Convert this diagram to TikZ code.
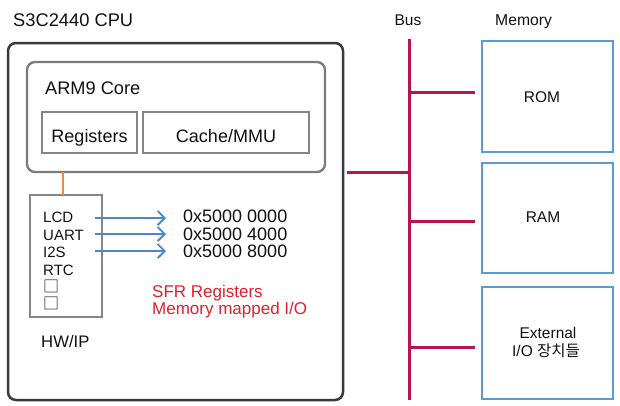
\documentclass[tikz,border=0pt]{standalone}
\usepackage{fontspec}
\setmainfont{Liberation Sans}
\newfontfamily\kr{Noto Sans CJK KR}
\usetikzlibrary{arrows.meta}
\definecolor{cpuline}{HTML}{3A3A3A}
\definecolor{coreline}{HTML}{7A7A7A}
\definecolor{thinline}{HTML}{858585}
\definecolor{busred}{HTML}{B5164F}
\definecolor{memblue}{HTML}{5B9BD5}
\definecolor{arrblue}{HTML}{4A86C8}
\definecolor{sfrred}{HTML}{E0202A}
\definecolor{wireorange}{HTML}{F28C3C}
\definecolor{txt}{HTML}{111111}
\tikzset{
  boxnode/.style={anchor=north west, inner sep=0pt, outer sep=0pt},
  lbl/.style={inner sep=0pt, anchor=base west, text=txt},
  clbl/.style={inner sep=0pt, anchor=base, text=txt},
  busline/.style={draw=busred, line width=3pt},
  maparrow/.style={draw=arrblue, line width=1.8pt, -{Straight Barb[length=7pt,width=14pt,line width=1.8pt]}},
}
\newcommand{\fs}[1]{\fontsize{#1}{#1}\selectfont}
\begin{document}
\begin{tikzpicture}[x=1pt,y=-1pt]
\useasboundingbox[fill=white] (0,0) rectangle (620,405);
% CPU outer box
\node[boxnode, draw=cpuline, line width=2.5pt, rounded corners=8pt, minimum width=335pt, minimum height=357pt] (cpu) at (8,43) {};
\node[lbl, font=\fs{18.3}] (title) at (13,26) {S3C2440 CPU};
% ARM9 core
\node[boxnode, draw=coreline, line width=2.3pt, rounded corners=8pt, minimum width=298pt, minimum height=110pt] (core) at (27,62) {};
\node[lbl, font=\fs{18.2}] (coretxt) at (45,94) {ARM9 Core};
\node[boxnode, draw=thinline, line width=1.3pt, minimum width=95pt, minimum height=41pt] (reg) at (42,112) {};
\node[clbl, font=\fs{18}] (regtxt) at ([yshift=-9.5pt]reg.center) {Registers};
\node[boxnode, draw=thinline, line width=1.3pt, minimum width=166pt, minimum height=41pt] (cache) at (143,112) {};
\node[clbl, font=\fs{18}] (cachetxt) at ([yshift=-9.5pt]cache.center) {Cache/MMU};
% HW/IP box
\node[boxnode, draw=thinline, line width=1.3pt, minimum width=72pt, minimum height=122pt] (hw) at (30,195) {};
\coordinate (o1) at (63,172);
\coordinate (o2) at (63,195);
\draw[wireorange, line width=2.2pt] (o1) -- (o2);
\node[lbl, font=\fs{15}] (lcd) at (43,222) {LCD};
\node[lbl, font=\fs{15}] (uart) at (43,240) {UART};
\node[lbl, font=\fs{15}] (i2s) at (43,257) {I2S};
\node[lbl, font=\fs{15}] (rtc) at (43,275) {RTC};
\node[lbl, font=\kr\fs{16}] (sq1) at (43,292) {□};
\node[lbl, font=\kr\fs{16}] (sq2) at (43,309) {□};
\node[lbl, font=\fs{16.7}] (hwtxt) at (41,347) {HW/IP};
% addresses
\node[lbl, font=\fs{18}] (a1) at (183,222) {0x5000 0000};
\node[lbl, font=\fs{18}] (a2) at (183,240) {0x5000 4000};
\node[lbl, font=\fs{18}] (a3) at (183,257) {0x5000 8000};
\coordinate (s1) at (95,218);
\coordinate (s2) at (95,234);
\coordinate (s3) at (95,251);
\coordinate (e1) at (166,218);
\coordinate (e2) at (166,234);
\coordinate (e3) at (166,251);
\draw[maparrow] (s1) -- (e1);
\draw[maparrow] (s2) -- (e2);
\draw[maparrow] (s3) -- (e3);
\node[lbl, font=\fs{17}, text=sfrred] (sfr1) at (152,297) {SFR Registers};
\node[lbl, font=\fs{17}, text=sfrred] (sfr2) at (152,314) {Memory mapped I/O};
% Bus
\node[clbl, font=\fs{15.5}] (bustxt) at (408,25) {Bus};
\node[lbl, font=\fs{15.7}] (memtxt) at (495,25) {Memory};
\coordinate (bt) at (409,39);
\coordinate (bb) at (409,400);
\draw[busline] (bt) -- (bb);
\coordinate (cpuout) at (347,172);
\coordinate (bcpu) at (409,172);
\draw[busline] (cpuout) -- (bcpu);
% memory boxes
\node[boxnode, draw=memblue, line width=2pt, minimum width=131pt, minimum height=111pt] (rom) at (482,41) {};
\node[boxnode, draw=memblue, line width=2pt, minimum width=131pt, minimum height=110pt] (ram) at (482,163) {};
\node[boxnode, draw=memblue, line width=2pt, minimum width=131pt, minimum height=112pt] (ext) at (482,287) {};
\node[clbl, font=\fs{15.5}] (romtxt) at (542,102) {ROM};
\node[clbl, font=\fs{15.5}] (ramtxt) at (543,222) {RAM};
\node[clbl, font=\fs{15.5}] (exttxt1) at (548,338) {External};
\node[clbl, font=\fs{15.5}] (exttxt2) at (546,356) {I/O {\kr 장치들}};
\coordinate (b1) at (409,92);
\coordinate (b2) at (409,221);
\coordinate (b3) at (409,347);
\coordinate (m1) at (475,92);
\coordinate (m2) at (475,221);
\coordinate (m3) at (475,347);
\draw[busline] (b1) -- (m1);
\draw[busline] (b2) -- (m2);
\draw[busline] (b3) -- (m3);
\end{tikzpicture}
\end{document}
